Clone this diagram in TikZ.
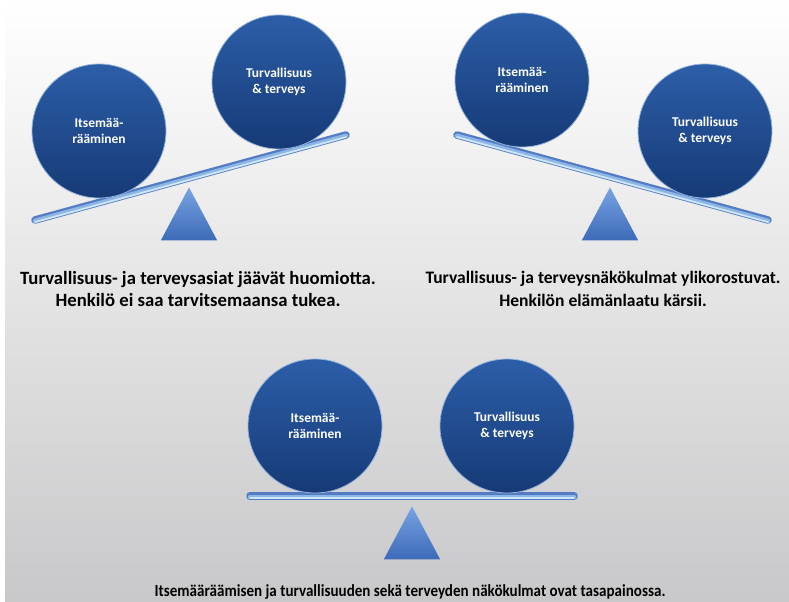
\documentclass[tikz,border=0pt]{standalone}
\usepackage{fontspec}
\usepackage{graphicx}
\setmainfont{Carlito}
\usetikzlibrary{shapes.geometric}
\definecolor{ballTop}{RGB}{44,94,168}
\definecolor{ballBot}{RGB}{22,58,118}
\definecolor{ballEdge}{RGB}{150,180,220}
\definecolor{beamTop}{RGB}{210,230,250}
\definecolor{beamMid}{RGB}{140,182,232}
\definecolor{beamBot}{RGB}{84,124,194}
\definecolor{triTop}{RGB}{120,164,226}
\definecolor{triBot}{RGB}{60,106,184}
\definecolor{bgMid}{RGB}{230,230,230}
\definecolor{bgBot}{RGB}{200,200,202}
\tikzset{
  ball/.style={circle, minimum size=134bp, inner sep=0pt, draw=ballEdge, line width=0.8bp,
    top color=ballTop, bottom color=ballBot, text=white,
    font=\bfseries\fontsize{13.5}{16.5}\selectfont, align=center},
  beam/.style={draw=beamBot, line width=7.5bp, line cap=round},
  beammid/.style={draw=beamMid, line width=4.5bp, line cap=round},
  beamhi/.style={draw=beamTop, line width=1.6bp, line cap=round},
  fulcrum/.style={isosceles triangle, shape border rotate=90, isosceles triangle apex angle=56,
    minimum height=53bp, inner sep=0pt, top color=triTop, bottom color=triBot, draw=none},
  caption/.style={font=\bfseries\fontsize{17}{23}\selectfont, align=center, text=black}
}
\begin{document}
\begin{tikzpicture}[x=1bp,y=-1bp]
\useasboundingbox (0,0) rectangle (789,602);
\shade[top color=white, middle color=bgMid, bottom color=bgBot] (0,0) rectangle (789,602);
\fill[white] (0,0) rectangle (5,602);

% Panel 1
\node[fulcrum, anchor=apex] (f1) at (189,187) {};
\coordinate (b1a) at (35,220);
\coordinate (b1b) at (346,135);
\draw[beam] (b1a) -- (b1b);
\draw[beammid] ([yshift=-0.8bp]b1a) -- ([yshift=-0.8bp]b1b);
\draw[beamhi] ([yshift=-2bp]b1a) -- ([yshift=-2bp]b1b);
\node[ball] (l1) at (99,131) {Itsemää-\\rääminen};
\node[ball] (r1) at (279,82) {Turvallisuus\\\& terveys};
\node[caption, font=\bfseries\fontsize{18.8}{23}\selectfont] (c1) at (198,289) {Turvallisuus- ja terveysasiat jäävät huomiotta.\\Henkilö ei saa tarvitsemaansa tukea.};

% Panel 2
\node[fulcrum, anchor=apex] (f2) at (610,187) {};
\coordinate (b2a) at (457,135);
\coordinate (b2b) at (768,220);
\draw[beam] (b2a) -- (b2b);
\draw[beammid] ([yshift=-0.8bp]b2a) -- ([yshift=-0.8bp]b2b);
\draw[beamhi] ([yshift=-2bp]b2a) -- ([yshift=-2bp]b2b);
\node[ball] (l2) at (522,80) {Itsemää-\\rääminen};
\node[ball] (r2) at (705,131) {Turvallisuus\\\& terveys};
\node[caption, font=\bfseries\fontsize{17.6}{23}\selectfont] (c2) at (603,289) {Turvallisuus- ja terveysnäkökulmat ylikorostuvat.\\Henkilön elämänlaatu kärsii.};

% Panel 3
\node[fulcrum, anchor=apex] (f3) at (412,506) {};
\coordinate (b3a) at (250,496);
\coordinate (b3b) at (574,496);
\draw[beam] (b3a) -- (b3b);
\draw[beammid] ([yshift=-0.8bp]b3a) -- ([yshift=-0.8bp]b3b);
\draw[beamhi] ([yshift=-2bp]b3a) -- ([yshift=-2bp]b3b);
\node[ball] (l3) at (315,426) {Itsemää-\\rääminen};
\node[ball] (r3) at (507,426) {Turvallisuus\\\& terveys};
\node[caption, anchor=base] (c3) at (410,596) {\scalebox{0.89}[1]{Itsemääräämisen ja turvallisuuden sekä terveyden näkökulmat ovat tasapainossa.}};
\end{tikzpicture}
\end{document}
